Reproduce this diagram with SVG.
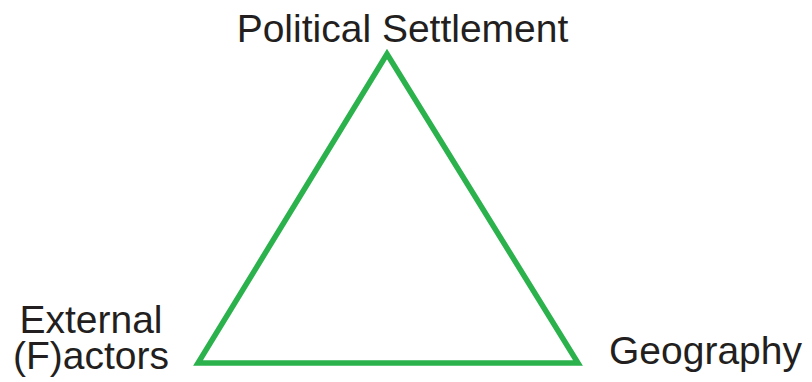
<svg xmlns="http://www.w3.org/2000/svg" width="812" height="382" viewBox="0 0 812 382">
<style>
text{font-family:"Liberation Sans",Arial,sans-serif;font-size:39px;fill:#231f20}
.edge{fill:none;stroke:#2bb24c;stroke-width:5.5;stroke-linejoin:miter;stroke-miterlimit:10}
</style>
<rect width="812" height="382" fill="#fff"/>
<g id="connectors">
<polygon class="edge" points="387,54 578,363 198,363"/>
</g>
<g id="node-political">
<text x="402.5" y="42" text-anchor="middle">Political Settlement</text>
</g>
<g id="node-external">
<text x="91" y="333" text-anchor="middle">External</text>
<text x="91" y="369" text-anchor="middle">(F)actors</text>
</g>
<g id="node-geography">
<text x="609" y="364">Geography</text>
</g>
</svg>
